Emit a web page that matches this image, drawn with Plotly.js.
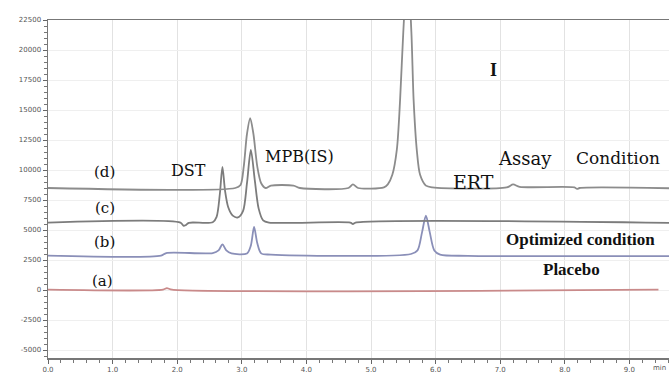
<!DOCTYPE html>
<html>
<head>
<meta charset="utf-8">
<script src="https://cdn.plot.ly/plotly-3.0.1.min.js"></script>
<style>html,body{margin:0;padding:0;background:#fff;}#chart{width:669px;height:376px;}</style>
</head>
<body>
<div id="chart"></div>
<script>
// Retention time (min) and detector response for each chromatogram
const timeD = [0, 2.90, 2.98, 3.03, 3.08, 3.13, 3.18, 3.24, 3.30, 3.37, 3.45, 3.80, 3.90, 4.65, 4.72, 4.80, 5.20, 5.26, 5.33, 5.40, 5.45, 5.50, 5.565, 5.625, 5.66, 5.71, 5.76, 5.85, 5.95, 7.10, 7.20, 7.30, 8.15, 8.19, 8.23, 9.62];
const respD = [8500, 8500, 8750, 10280, 13000, 14330, 13000, 10280, 8900, 8500, 8700, 8700, 8500, 8500, 8800, 8500, 8550, 8800, 9600, 11700, 15800, 21500, 27000, 21500, 15800, 11600, 9600, 8700, 8550, 8550, 8800, 8600, 8550, 8420, 8500, 8480];

const timeC = [0, 2.05, 2.10, 2.13, 2.18, 2.55, 2.61, 2.66, 2.70, 2.74, 2.79, 2.86, 2.94, 3.02, 3.08, 3.14, 3.20, 3.26, 3.33, 3.42, 4.68, 4.72, 4.76, 9.62];
const respC = [5620, 5620, 5350, 5400, 5600, 5650, 6100, 8000, 10250, 8300, 6900, 6200, 6050, 6600, 8900, 11670, 9200, 6800, 5800, 5620, 5620, 5500, 5620, 5600];

const timeB = [0, 1.75, 1.83, 2.55, 2.64, 2.70, 2.76, 2.84, 3.08, 3.14, 3.19, 3.24, 3.30, 3.45, 5.62, 5.72, 5.79, 5.85, 5.91, 5.98, 6.07, 6.50, 9.62];
const respB = [2860, 2860, 3080, 3080, 3300, 3800, 3300, 3050, 3050, 3700, 5250, 3900, 3050, 2950, 3000, 3300, 4800, 6200, 4800, 3300, 2950, 2850, 2830];

const timeA = [0, 1.78, 1.84, 1.92, 9.45];
const respA = [30, 30, 150, 30, 30];

const seriesNames = ['(d)', '(c)', '(b)', '(a)'];

const xTickVals = [0, 1, 2, 3, 4, 5, 6, 7, 8, 9];
const xTickText = ['0.0', '1.0', '2.0', '3.0', '4.0', '5.0', '6.0', '7.0', '8.0', '9.0'];
const yTickVals = [-5000, -2500, 0, 2500, 5000, 7500, 10000, 12500, 15000, 17500, 20000, 22500];
const yTickText = ['-5000', '-2500', '0', '2500', '5000', '7500', '10000', '12500', '15000', '17500', '20000', '22500'];

const mk = (x, y, color, name) => ({
  x: x, y: y, name: name, type: 'scatter', mode: 'lines',
  line: {color: color, width: 1.8, shape: 'spline', smoothing: 0.8},
  hoverinfo: 'skip', showlegend: false
});

const data = [
  mk(timeA, respA, '#c98a8a', seriesNames[3]),
  mk(timeB, respB, '#8a8fb8', seriesNames[2]),
  mk(timeC, respC, '#7c7c7c', seriesNames[1]),
  mk(timeD, respD, '#8c8c8c', seriesNames[0])
];

const serif = 'DejaVu Serif';
const times = 'Liberation Serif';
const ann = (text, x, y, size, family, extra) => Object.assign({
  text: text, x: x, y: y, xref: 'x', yref: 'y', showarrow: false,
  font: {family: family, size: size, color: '#111'}
}, extra || {});

const layout = {
  width: 669, height: 376,
  margin: {l: 48, r: 0, t: 20, b: 18},
  paper_bgcolor: '#fff', plot_bgcolor: '#fff',
  xaxis: {
    range: [0, 9.613], tickvals: xTickVals, ticktext: xTickText,
    showline: true, linecolor: '#777', linewidth: 1.5, mirror: true,
    ticks: 'outside', ticklen: 4, tickcolor: '#666',
    showgrid: true, gridcolor: '#e2e2e2', zeroline: false,
    tickfont: {family: 'DejaVu Sans', size: 7, color: '#555'},
    minor: {dtick: 0.2, ticks: 'outside', ticklen: 3, tickcolor: '#777', showgrid: false}
  },
  yaxis: {
    range: [-5667, 22500], tickvals: yTickVals, ticktext: yTickText,
    showline: true, linecolor: '#777', linewidth: 1.5,
    ticks: 'outside', ticklen: 4, tickcolor: '#666',
    showgrid: true, gridcolor: '#efefef', zeroline: false,
    tickfont: {family: 'DejaVu Sans', size: 7, color: '#555'},
    minor: {dtick: 500, ticks: 'outside', ticklen: 3, tickcolor: '#777', showgrid: false}
  },
  annotations: [
    ann('(d)', 0.88, 9830, 15, serif),
    ann('(c)', 0.88, 6830, 15, serif),
    ann('(b)', 0.88, 4000, 15, serif),
    ann('(a)', 0.85, 750, 15, serif),
    ann('DST', 2.18, 9940, 16, serif),
    ann('MPB(IS)', 3.90, 11110, 16, serif),
    ann('ERT', 6.58, 9000, 19, serif),
    ann('Assay', 6.93, 11000, 18, serif, {xanchor: 'left'}),
    ann('Condition', 8.14, 11000, 17, serif, {xanchor: 'left'}),
    ann('<b>I</b>', 6.89, 18330, 18, times),
    ann('<b>Optimized condition</b>', 8.24, 4170, 17, times),
    ann('<b>Placebo</b>', 8.11, 1670, 17, times),
    {text: 'min', x: 9.47, y: -0.03, xref: 'x', yref: 'paper', showarrow: false,
     yanchor: 'middle', font: {family: 'DejaVu Sans', size: 7, color: '#555'}}
  ]
};

Plotly.newPlot('chart', data, layout, {staticPlot: true, displayModeBar: false});
</script>
</body>
</html>
